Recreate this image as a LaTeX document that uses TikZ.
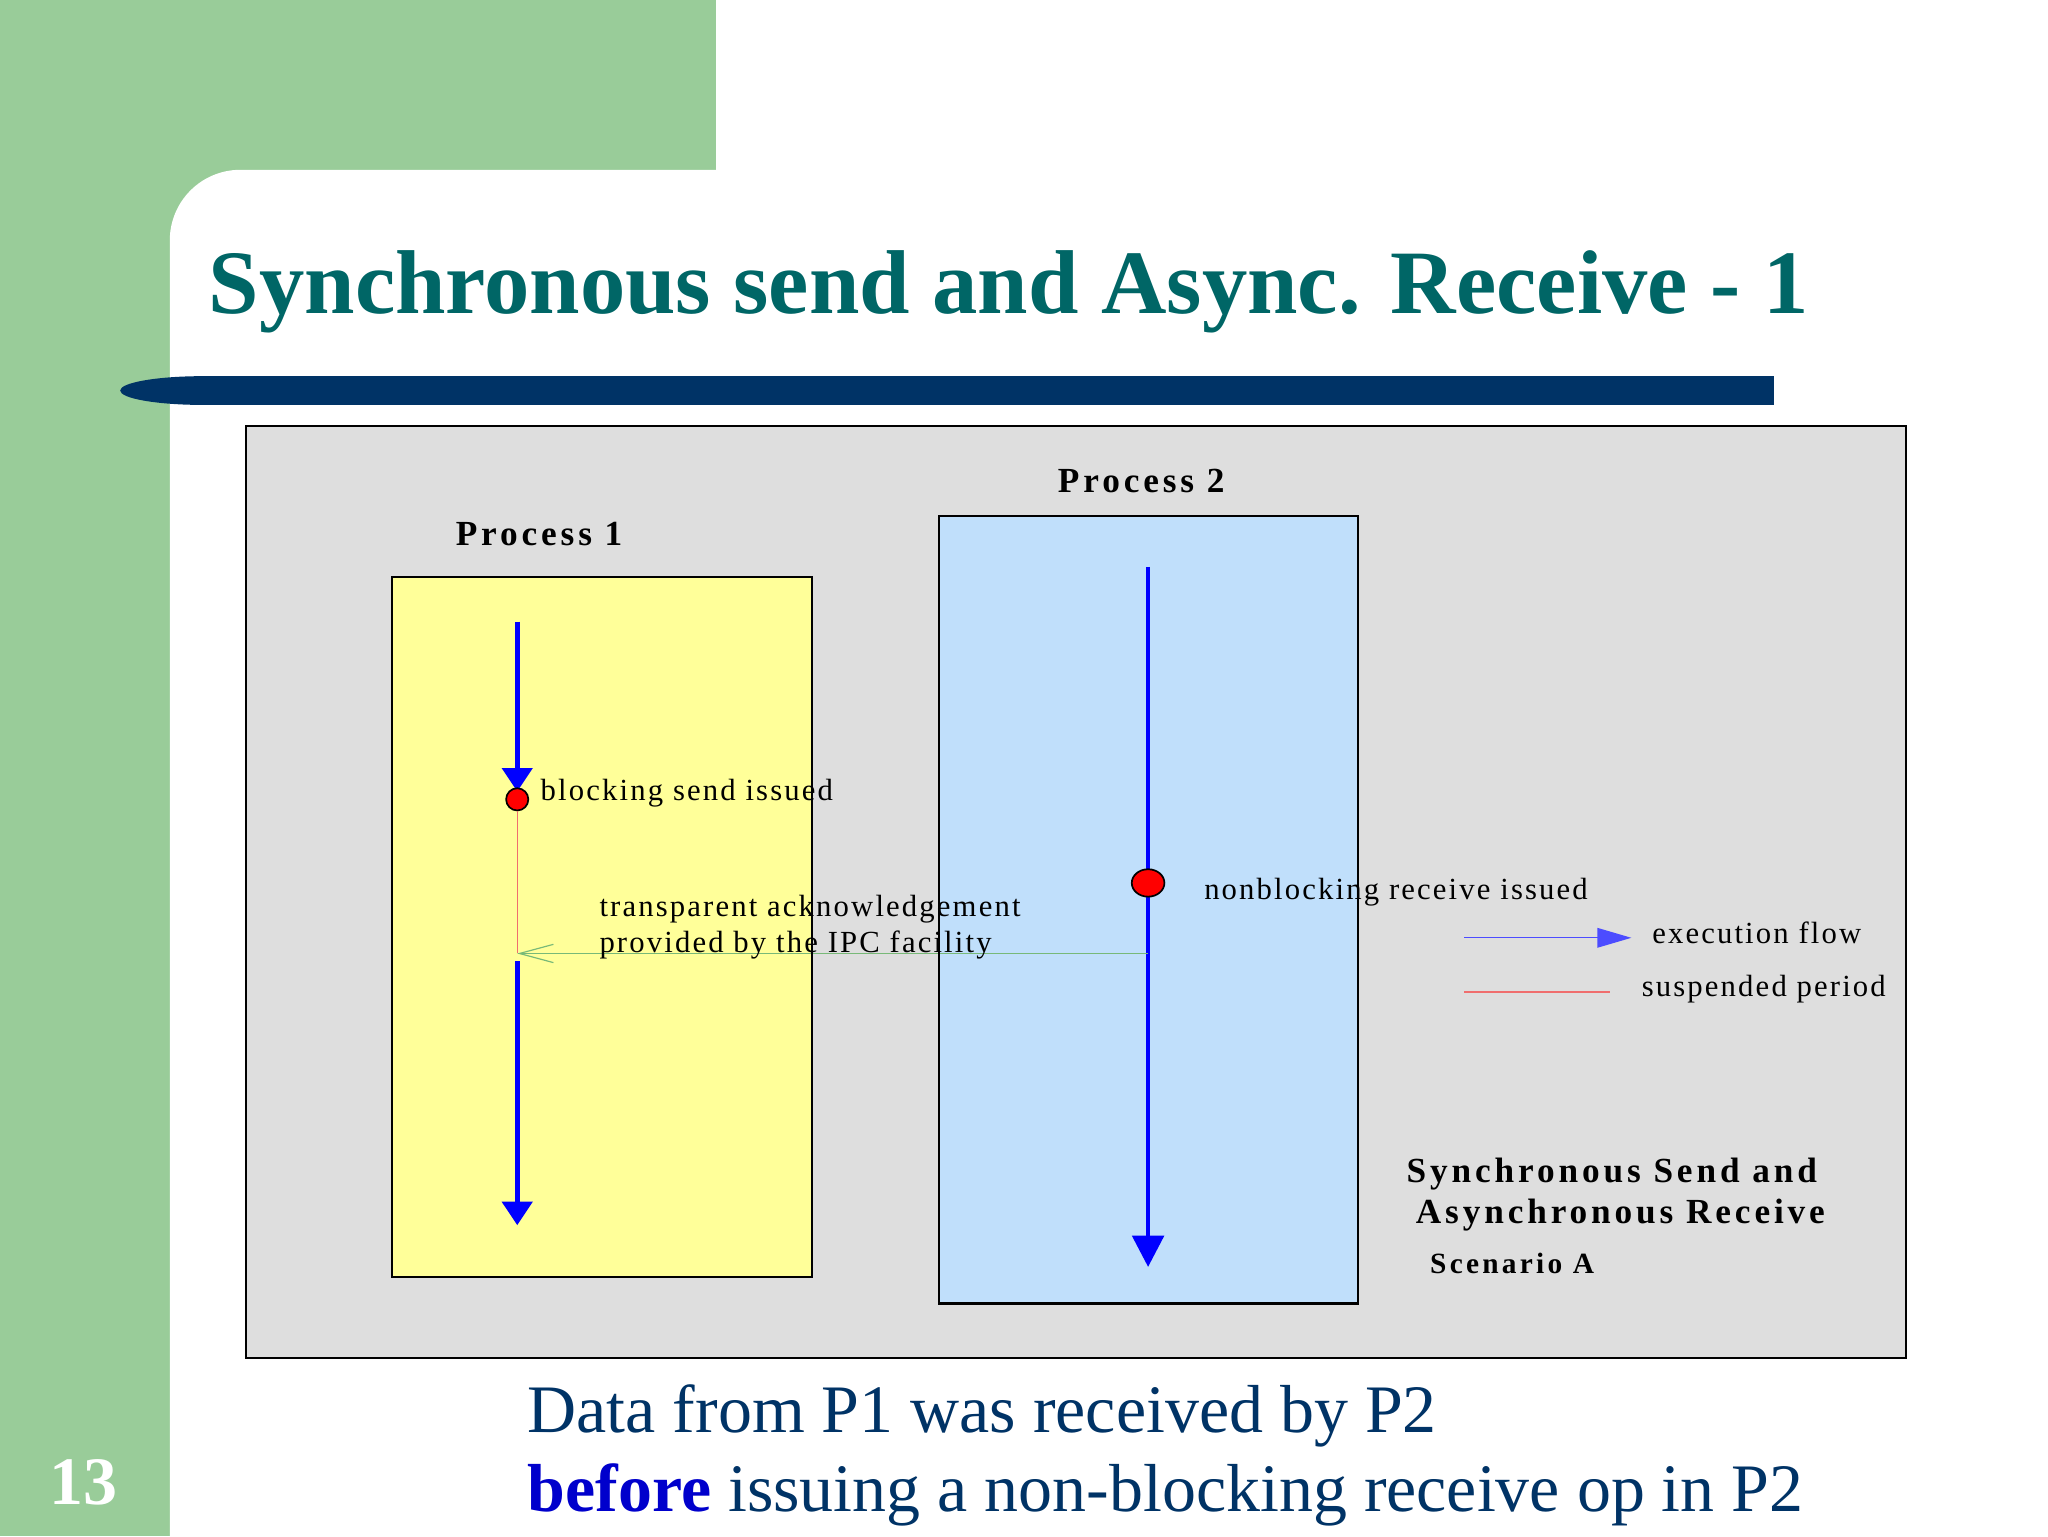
\documentclass[tikz,border=0pt]{standalone}
\usepackage{fontspec}
\setmainfont{Liberation Serif}
\newfontfamily\lblfont[LetterSpace=7]{Liberation Serif}
\newfontfamily\lblbfont[LetterSpace=11]{Liberation Serif}
\usetikzlibrary{arrows.meta,shapes.geometric}
\definecolor{bandgreen}{RGB}{153,204,153}
\definecolor{titleteal}{RGB}{0,102,102}
\definecolor{navy}{RGB}{0,51,102}
\definecolor{boxgray}{RGB}{222,222,222}
\definecolor{pyellow}{RGB}{255,255,153}
\definecolor{pblue}{RGB}{192,223,251}
\definecolor{ackgreen}{RGB}{120,185,120}
\definecolor{suspred}{RGB}{240,110,110}
\definecolor{beforeblue}{RGB}{0,0,204}
\begin{document}
\begin{tikzpicture}[x=1pt,y=-1pt,
  txt/.style={anchor=base west,inner sep=0pt,outer sep=0pt},
  lab/.style={txt,font=\lblfont\fontsize{23.5}{26}\selectfont},
  blab/.style={txt,font=\lblbfont\bfseries\fontsize{27}{30}\selectfont},
  slab/.style={txt,font=\lblbfont\bfseries\fontsize{22.5}{26}\selectfont},
  flowa/.style={draw=blue,line width=3.5pt,-{Triangle[length=18pt,width=23pt]}},
  flowb/.style={draw=blue,line width=3.5pt,-{Triangle[length=24pt,width=24pt]}},
  reddot/.style={ellipse,draw=black,line width=1.3pt,fill=red,inner sep=0pt},
  boxline/.style={draw=black,line width=1.6pt},
  bottomtxt/.style={txt,font=\fontsize{52}{60}\selectfont,text=navy}
]
\useasboundingbox (0,0) rectangle (1568,1176);
% background band
\fill[bandgreen] (0,0) rectangle (548,200);
\fill[bandgreen] (0,0) rectangle (130,1176);
\fill[white,rounded corners=54pt] (130,130) rectangle (1700,1300);
% title bar
\fill[navy] (155,288) rectangle (1358,310);
\fill[navy] (155,299) ellipse [x radius=63, y radius=11];
\node[txt,font=\bfseries\fontsize{69.4}{80}\selectfont,text=titleteal] (title) at (160,240) {Synchronous send and Async. Receive - 1};
% diagram fills
\fill[boxgray] (188,326) rectangle (1459,1040);
\fill[pyellow] (300,442) rectangle (622,978);
\fill[pblue] (719,395) rectangle (1040,998);
% coordinates
\coordinate (p1s) at (396,476);
\coordinate (p1h) at (396,606);
\coordinate (ackend) at (396,730);
\coordinate (p1r) at (396,736);
\coordinate (p1e) at (396,938);
\coordinate (p2s) at (879,434);
\coordinate (p2e) at (879,970);
\coordinate (ackstart) at (879,730);
\coordinate (lg1a) at (1121,718);
\coordinate (lg1b) at (1249,718);
\coordinate (lg2a) at (1121,759.5);
\coordinate (lg2b) at (1233,759.5);
% flows
\draw[flowa] (p1s) -- (p1h);
\draw[flowa] (p1r) -- (p1e);
\draw[flowb] (p2s) -- (p2e);
\node[reddot,minimum width=17pt,minimum height=17pt] (d1) at (396,612) {};
\node[reddot,minimum width=25pt,minimum height=21pt] (d2) at (879,676) {};
\draw[suspred,line width=0.7pt] (d1) -- (ackend);
\draw[ackgreen,line width=0.9pt,-{Straight Barb[length=26pt,width=14pt]}] (ackstart) -- (ackend);
% legend
\draw[blue!70,line width=1pt,-{Triangle[length=26pt,width=15pt]}] (lg1a) -- (lg1b);
\draw[suspred,line width=1pt] (lg2a) -- (lg2b);
% labels
\node[blab] (proc1) at (349,418) {Process 1};
\node[blab] (proc2) at (810,377) {Process 2};
\node[lab] (bsend) at (414,613) {blocking send issued};
\node[lab] (ack1) at (459,702) {transparent acknowledgement};
\node[lab] (ack2) at (459,729) {provided by the IPC facility};
\node[lab] (nbrecv) at (922,689) {nonblocking receive issued};
\node[lab] (lgexec) at (1265,722) {execution flow};
\node[lab] (lgsusp) at (1257,763) {suspended period};
\node[blab] (cap1) at (1077,905) {Synchronous Send and};
\node[blab] (cap2) at (1084,937) {Asynchronous Receive};
\node[slab] (cap3) at (1095,975) {Scenario A};
% borders on top
\draw[boxline] (188,326) rectangle (1459,1040);
\draw[boxline] (300,442) rectangle (622,978);
\draw[boxline] (719,395) rectangle (1040,998);
% bottom text
\node[bottomtxt] (line1) at (404,1097) {Data from P1 was received by P2};
\node[bottomtxt] (line2) at (404,1157) {\textcolor{beforeblue}{\bfseries before} issuing a non-blocking receive op in P2};
\node[txt,font=\bfseries\fontsize{52}{60}\selectfont,text=white] (pagenum) at (38,1152) {13};
\end{tikzpicture}
\end{document}
